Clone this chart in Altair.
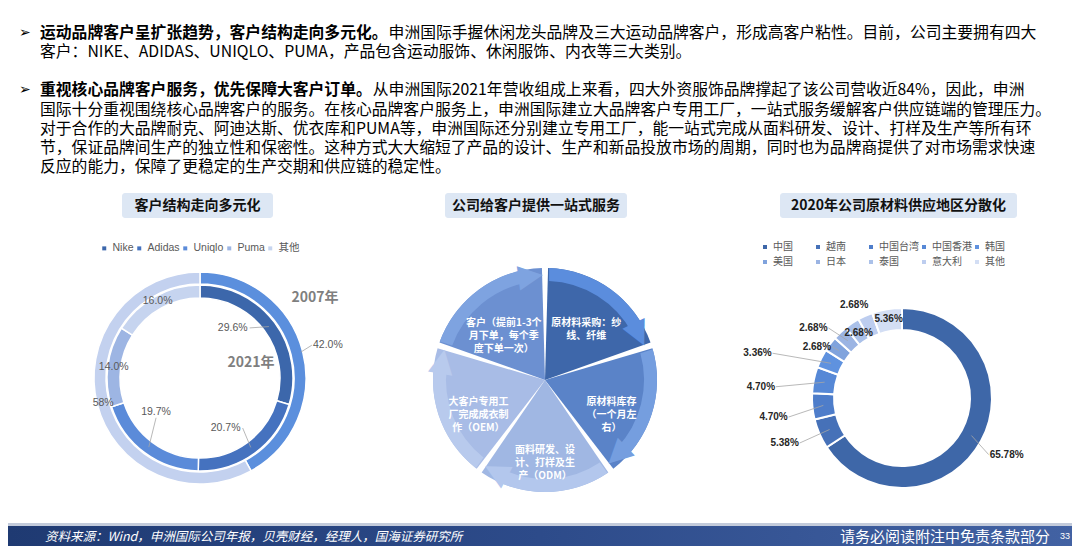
import math
import altair as alt
import pandas as pd

# ---------------- data ----------------
brands = ["Nike", "Adidas", "Uniqlo", "Puma", "其他"]
share_2021 = [29.6, 20.7, 19.7, 14.0, 16.0]
label_2021 = ["29.6%", "20.7%", "19.7%", "14.0%", "16.0%"]

groups_2007 = ["Nike", "其他"]
share_2007 = [42.0, 58.0]
label_2007 = ["42.0%", "58%"]

steps = ["原材料采购", "原材料库存", "面料研发", "大客户专用工厂", "客户"]
step_weight = [1, 1, 1, 1, 1]
step_text = [
    "原材料采购：纱\n线、纤维",
    "原材料库存\n（一个月左\n右）",
    "面料研发、设\n计、打样及生\n产（ODM）",
    "大客户专用工\n厂完成成衣制\n作（OEM）",
    "客户（提前1-3个\n月下单，每个季\n度下单一次）",
]

regions = ["中国", "越南", "中国台湾", "中国香港", "韩国", "美国", "日本", "泰国", "意大利", "其他"]
region_share = [65.78, 5.38, 4.70, 4.70, 3.36, 2.68, 2.68, 2.68, 2.68, 5.36]
region_label = ["65.78%", "5.38%", "4.70%", "4.70%", "3.36%", "2.68%", "2.68%", "2.68%", "2.68%", "5.36%"]

para1_bold = "运动品牌客户呈扩张趋势，客户结构走向多元化。"
para1_rest = "申洲国际手握休闲龙头品牌及三大运动品牌客户，形成高客户粘性。目前，公司主要拥有四大"
para1_lines = ["客户：NIKE、ADIDAS、UNIQLO、PUMA，产品包含运动服饰、休闲服饰、内衣等三大类别。"]
para2_bold = "重视核心品牌客户服务，优先保障大客户订单。"
para2_rest = "从申洲国际2021年营收组成上来看，四大外资服饰品牌撑起了该公司营收近84%，因此，申洲"
para2_lines = [
    "国际十分重视围绕核心品牌客户的服务。在核心品牌客户服务上，申洲国际建立大品牌客户专用工厂，一站式服务缓解客户供应链端的管理压力。",
    "对于合作的大品牌耐克、阿迪达斯、优衣库和PUMA等，申洲国际还分别建立专用工厂，能一站式完成从面料研发、设计、打样及生产等所有环",
    "节，保证品牌间生产的独立性和保密性。这种方式大大缩短了产品的设计、生产和新品投放市场的周期，同时也为品牌商提供了对市场需求快速",
    "反应的能力，保障了更稳定的生产交期和供应链的稳定性。",
]
titles = ["客户结构走向多元化", "公司给客户提供一站式服务", "2020年公司原材料供应地区分散化"]
source_text = "资料来源：Wind，申洲国际公司年报，贝壳财经，经理人，国海证券研究所"
disclaimer = "请务必阅读附注中免责条款部分"
page_no = "33"

# ---------------- style ----------------
CJK = "Noto Sans CJK SC"
LAT = "Liberation Sans"
W, H = 1064, 538
FS = 15.8
TH = alt.Scale(domain=[0, 1], range=[0, 2 * math.pi])
ONE = pd.DataFrame({"k": [0]})

inner_colors = ["#3c67ab", "#4572bf", "#5b8bd9", "#9db5e3", "#c6d4ef"]
outer_colors = ["#5b8fdd", "#c3d1ef"]
body_colors = ["#3e67aa", "#5a83c8", "#a0b7e3", "#a8bce6", "#6c90d1"]
band_colors = ["#5b8ddd", "#759edf", "#b3c7ed", "#b8caed", "#7ea3e0"]
region_colors = ["#3e67a8", "#4671b8", "#4e7dca", "#5688d6", "#5f92df",
                 "#80a3dd", "#9bb4e3", "#abc1e9", "#bdcdef", "#d3def4"]


def frame(cats, vals, labs):
    return pd.DataFrame({"c": cats, "v": vals, "lab": labs, "i": list(range(len(cats)))})


def polar(df):
    return (alt.Chart(df)
            .transform_window(cum="sum(v)", sort=[alt.SortField("i", order="ascending")], frame=[None, 0])
            .transform_joinaggregate(tot="sum(v)")
            .transform_calculate(s="(datum.cum - datum.v) / datum.tot",
                                 e="datum.cum / datum.tot",
                                 m="(datum.cum - datum.v / 2) / datum.tot"))


def ring(df, cx, cy, r_out, r_in, domain, colors, legend=None, end_field="e", **kw):
    color = alt.Color("c:N", scale=alt.Scale(domain=domain, range=colors), legend=legend)
    return polar(df).transform_calculate(eb="datum.e - 0.022").mark_arc(radius=r_out, radius2=r_in, **kw).encode(
        x=alt.value(cx), y=alt.value(cy),
        theta=alt.Theta("s:Q", scale=TH, stack=None), theta2=alt.Theta2(end_field), color=color)


def label(df, cx, cy, cat, r, dx=0, dy=0, **style):
    return (polar(df).transform_filter(alt.datum.c == cat)
            .mark_text(radius=r, dx=dx, dy=dy, **style)
            .encode(x=alt.value(cx), y=alt.value(cy),
                    theta=alt.Theta("m:Q", scale=TH, stack=None), text="lab:N"))


def leader(df, cx, cy, cat, r, dx, dy, r_ring, hw, mode="h"):
    # thin leader line from the slice (mid angle, on the ring) to the label's nearer edge
    a = "2 * PI * datum.m"
    lx = f"({cx} + {r} * sin({a}) + {dx})"
    ly = f"({cy} - {r} * cos({a}) + {dy})"
    ax = f"({cx} + {r_ring} * sin({a}))"
    ay = f"({cy} - {r_ring} * cos({a}))"
    if mode == "h":
        bx = f"({ax} > {lx} ? {lx} + {hw} : {lx} - {hw})"
        by = ly
    else:
        bx = lx
        by = f"({ly} + 6)"
    return (polar(df).transform_filter(alt.datum.c == cat)
            .transform_calculate(ax=ax, ay=ay, bx=bx, by=by)
            .mark_rule(color="#a6a6a6", strokeWidth=0.8)
            .encode(x=alt.X("ax:Q", scale=None), y=alt.Y("ay:Q", scale=None),
                    x2="bx:Q", y2="by:Q"))


def txt(s, x, y, size=FS, color="#000000", weight="normal", font=CJK, align="left", **kw):
    return alt.Chart(ONE).mark_text(align=align, baseline="middle", fontSize=size, font=font,
                                    fontWeight=weight, color=color, **kw).encode(
        x=alt.value(x), y=alt.value(y), text=alt.value(s))


def box(x1, x2, y1, y2, color, **kw):
    return alt.Chart(ONE).mark_rect(color=color, **kw).encode(
        x=alt.value(x1), x2=alt.value(x2), y=alt.value(y1), y2=alt.value(y2))


layers = []

# ---------------- top text ----------------
X0 = 32
layers.append(txt("➢", 11, 25, size=14, font="DejaVu Sans"))
layers.append(txt(para1_bold, X0, 25, weight="bold"))
layers.append(txt(para1_rest, X0 + len(para1_bold) * FS + 1, 25))
layers.append(txt(para1_lines[0], X0, 44))
layers.append(txt("➢", 11, 82, size=14, font="DejaVu Sans"))
layers.append(txt(para2_bold, X0, 82, weight="bold"))
layers.append(txt(para2_rest, X0 + len(para2_bold) * FS + 1, 82))
layers.append(txt("\n".join(para2_lines), X0, 102, lineBreak="\n", lineHeight=19))

# ---------------- title boxes ----------------
for (x1, x2), t in zip([(114, 265), (437, 619), (772, 1009)], titles):
    layers.append(box(x1, x2, 185, 210, "#dde7f4", cornerRadius=3))
    layers.append(txt(t, (x1 + x2) / 2, 197.5, size=14, weight="bold", align="center", color="#111111"))

# ---------------- left donuts ----------------
LX, LY = 192, 370
d2021 = frame(brands, share_2021, label_2021)
d2007 = frame(groups_2007, share_2007, label_2007)
left_legend = alt.Legend(orient="none", legendX=91, legendY=235, direction="horizontal", columns=5,
                         title=None, symbolType="square", symbolSize=16, symbolStrokeWidth=0,
                         labelFontSize=10.5, labelColor="#595959", labelFont=LAT + ", " + CJK,
                         labelOffset=3, columnPadding=0, padding=0, gridAlign="each")
layers.append(ring(d2007, LX, LY, 106, 94, groups_2007, outer_colors, stroke="white", strokeWidth=1.5))
layers.append(ring(d2021, LX, LY, 93, 80, brands, inner_colors, legend=left_legend,
                   stroke="white", strokeWidth=1.5))
lstyle = dict(fontSize=10.5, font=LAT, color="#595959")
inner_spec = [("Nike", 57, -13, -16), ("Adidas", 57, -8, 4), ("Uniqlo", 57, -10, -12),
              ("Puma", 87, 0, 0), ("其他", 88, 0, 0)]
layers.append(leader(d2021, LX, LY, "Nike", 57, -13, -16, 86, 17))
layers.append(leader(d2021, LX, LY, "Adidas", 57, -8, 4, 86, 17))
layers.append(leader(d2021, LX, LY, "Uniqlo", 57, -10, -12, 86, 17, mode="v"))
layers.append(leader(d2007, LX, LY, "Nike", 132, 0, 0, 104, 16))
for cat, r, dx, dy in inner_spec:
    layers.append(label(d2021, LX, LY, cat, r, dx, dy, **lstyle))
for cat, r in [("Nike", 132), ("其他", 100)]:
    layers.append(label(d2007, LX, LY, cat, r, **lstyle))
layers.append(txt("2007年", 307, 290, size=14, weight="bold", color="#7f7f7f", align="center"))
layers.append(txt("2021年", 243, 355, size=14, weight="bold", color="#7f7f7f", align="center"))

# ---------------- middle cycle ----------------
MX, MY = 537, 372
dcyc = frame(steps, step_weight, step_text)
layers.append(ring(dcyc, MX, MY, 112, 0, steps, body_colors, padAngle=0.055))
layers.append(ring(dcyc, MX, MY, 112, 99, steps, band_colors, end_field="eb", padAngle=0.055))
layers.append(
    polar(dcyc).transform_calculate(a="datum.e - 0.022", ang="(datum.e - 0.022) * 360")
    .mark_text(text="▶", radius=106, fontSize=32, font="DejaVu Sans", align="center", baseline="middle")
    .encode(x=alt.value(MX), y=alt.value(MY),
            theta=alt.Theta("a:Q", scale=TH, stack=None),
            angle=alt.Angle("ang:Q", scale=None),
            color=alt.Color("c:N", scale=alt.Scale(domain=steps, range=band_colors), legend=None)))
layers.append(
    polar(dcyc).mark_text(radius=70, fontSize=10, font=CJK, fontWeight="bold", color="white",
                          lineBreak="\n", lineHeight=13, align="center", baseline="middle")
    .encode(x=alt.value(MX), y=alt.value(MY),
            theta=alt.Theta("m:Q", scale=TH, stack=None), text="lab:N"))

# ---------------- right donut ----------------
RX, RY = 894, 390
dreg = frame(regions, region_share, region_label)
right_legend = alt.Legend(orient="none", legendX=752, legendY=234, direction="horizontal", columns=5,
                          title=None, symbolType="square", symbolSize=16, symbolStrokeWidth=0,
                          labelFontSize=10, labelColor="#595959", labelFont=CJK,
                          labelOffset=3, columnPadding=0, rowPadding=5, padding=0, gridAlign="all")
layers.append(ring(dreg, RX, RY, 90, 68, regions, region_colors, legend=right_legend,
                   stroke="white", strokeWidth=2))
rstyle = dict(fontSize=10, font=LAT, fontWeight="bold", color="#262626")
right_spec = [("中国", 119, 0, 0, True), ("越南", 128, 0, -6, True), ("中国台湾", 129, 0, 7, True),
              ("中国香港", 141, -3, 17, True), ("韩国", 152, -8, 22, True), ("美国", 99, -6, 8, True),
              ("日本", 113, -11, 12, True), ("泰国", 78, 0, 0, False), ("意大利", 105, -5, 3, False),
              ("其他", 80, 0, 0, False)]
for cat, r, dx, dy, lead in right_spec:
    if lead:
        hw = 18 if cat == "中国" else 15
        layers.append(leader(dreg, RX, RY, cat, r, dx, dy, 79, hw))
for cat, r, dx, dy, lead in right_spec:
    layers.append(label(dreg, RX, RY, cat, r, dx, dy, **rstyle))

# ---------------- footer ----------------
grad = alt.LinearGradient(gradient="linear", x1=0, x2=1, y1=0, y2=0,
                          stops=[alt.GradientStop(color="#1f3a72", offset=0),
                                 alt.GradientStop(color="#2d4b8a", offset=0.5),
                                 alt.GradientStop(color="#4262a3", offset=1)])
layers.append(box(0, W, 515, 518, "#c3cbdb"))
layers.append(box(0, W, 518, H, grad))
layers.append(txt(source_text, 37, 529, size=12.5, color="white", fontStyle="italic"))
layers.append(txt(disclaimer, 1042, 529, size=15, color="white", align="right"))
layers.append(txt(page_no, 1052, 528, size=9, color="white", font=LAT))

chart = (alt.layer(*layers)
         .resolve_scale(theta="independent", color="independent")
         .properties(width=W, height=H, padding=0, autosize="none")
         .configure_view(stroke=None))

chart.save("out.html", embed_options={"renderer": "svg", "actions": False})
